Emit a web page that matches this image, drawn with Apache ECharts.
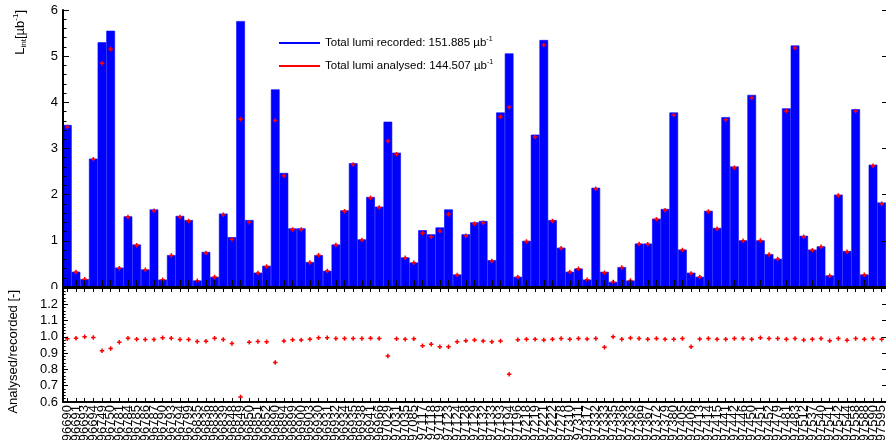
<!DOCTYPE html>
<html>
<head>
<meta charset="utf-8">
<script src="https://cdn.jsdelivr.net/npm/echarts@6/dist/echarts.min.js"></script>
<style>
  html, body { margin: 0; padding: 0; background: #fff; }
  #chart { width: 886px; height: 440px; }
</style>
</head>
<body>
<div id="chart"></div>
<script>
// Run numbers (one histogram bin per run)
const runs = [
  '296690','296691','296693','296694','296749','296750','296781','296784','296785','296786',
  '296787','296790','296793','296794','296799','296835','296836','296838','296839','296848',
  '296849','296850','296851','296852','296890','296894','296899','296900','296903','296930',
  '296931','296932','296934','296935','296938','296941','296966','297029','297031','297035',
  '297085','297117','297118','297119','297123','297124','297128','297129','297132','297133',
  '297193','297194','297196','297218','297219','297221','297222','297278','297310','297311',
  '297317','297332','297333','297335','297336','297363','297366','297367','297372','297379',
  '297380','297405','297406','297413','297414','297415','297441','297442','297446','297450',
  '297451','297452','297479','297481','297483','297512','297537','297540','297541','297542',
  '297544','297558','297588','297590','297595'
];

// Integrated luminosity recorded per run [ub^-1]
const recorded = [
  3.51, 0.33, 0.17, 2.78, 5.30, 5.55, 0.42, 1.53, 0.92, 0.38,
  1.68, 0.16, 0.69, 1.54, 1.45, 0.14, 0.76, 0.22, 1.59, 1.08,
  5.76, 1.45, 0.31, 0.46, 4.28, 2.47, 1.27, 1.27, 0.54, 0.69,
  0.35, 0.92, 1.66, 2.68, 1.03, 1.95, 1.74, 3.58, 2.91, 0.64,
  0.53, 1.23, 1.14, 1.29, 1.68, 0.27, 1.14, 1.40, 1.43, 0.58,
  3.78, 5.06, 0.22, 1.00, 3.30, 5.35, 1.45, 0.85, 0.33, 0.40,
  0.16, 2.15, 0.33, 0.11, 0.43, 0.14, 0.94, 0.94, 1.48, 1.69,
  3.78, 0.81, 0.31, 0.22, 1.65, 1.28, 3.68, 2.61, 1.01, 4.16,
  1.01, 0.71, 0.61, 3.87, 5.23, 1.11, 0.81, 0.88, 0.25, 2.00,
  0.78, 3.85, 0.27, 2.65, 1.83
];

// Integrated luminosity analysed per run [ub^-1]
const analysed = [
  3.468, 0.327, 0.170, 2.769, 4.844, 5.150, 0.406, 1.518, 0.907, 0.374,
  1.653, 0.159, 0.684, 1.515, 1.427, 0.136, 0.739, 0.218, 1.565, 1.036,
  3.635, 1.402, 0.301, 0.446, 3.604, 2.408, 1.247, 1.245, 0.532, 0.686,
  0.348, 0.911, 1.643, 2.653, 1.020, 1.934, 1.723, 3.161, 2.875, 0.631,
  0.524, 1.162, 1.089, 1.211, 1.578, 0.262, 1.112, 1.372, 1.394, 0.563,
  3.686, 3.896, 0.216, 0.985, 3.251, 5.243, 1.428, 0.842, 0.325, 0.396,
  0.158, 2.129, 0.309, 0.110, 0.424, 0.139, 0.931, 0.926, 1.465, 1.665,
  3.723, 0.802, 0.291, 0.217, 1.634, 1.261, 3.625, 2.584, 1.000, 4.098,
  1.005, 0.703, 0.604, 3.812, 5.178, 1.088, 0.798, 0.871, 0.244, 1.980,
  0.764, 3.812, 0.266, 2.624, 1.803
];

// Totals quoted in the legend
const totalRecorded = '151.885';
const totalAnalysed = '144.507';

// Fraction of the recorded luminosity that was analysed
const ratio = recorded.map((r, i) => +(analysed[i] / r).toFixed(4));

const FONT = "'Liberation Sans', Arial, Helvetica, sans-serif";
const BLACK = '#000';
const BLUE = '#0000ff';
const RED = '#ff0000';
const PLUS = 'path://M1,0H2V1H3V2H2V3H1V2H0V1H1Z';

function catAxis(grid, pos, tickLen, labels) {
  return {
    gridIndex: grid, type: 'category', data: runs, position: pos, z: 10,
    boundaryGap: true,
    axisLine: { show: true, lineStyle: { color: BLACK, width: 2 } },
    axisTick: { show: true, inside: true, length: tickLen, alignWithLabel: true, interval: 0,
                lineStyle: { color: BLACK, width: 1 } },
    axisLabel: labels ? {
      show: true, rotate: 90, interval: 0, fontSize: 13, margin: 3,
      color: BLACK, fontFamily: FONT, hideOverlap: false
    } : { show: false },
    splitLine: { show: false }
  };
}

function valAxis(grid, pos, min, max, step, major, minor, labels, fmt) {
  return {
    gridIndex: grid, type: 'value', position: pos, min: min, max: max, interval: step, z: 10,
    axisLine: { show: pos === 'left', lineStyle: { color: BLACK, width: 2 } },
    axisTick: { show: true, inside: true, length: major, lineStyle: { color: BLACK, width: 1 } },
    minorTick: { show: minor > 0, splitNumber: 5, length: minor, lineStyle: { color: BLACK, width: 1 } },
    axisLabel: labels ? {
      show: true, fontSize: 13, margin: 5, color: BLACK, fontFamily: FONT,
      showMaxLabel: grid === 0, formatter: fmt
    } : { show: false },
    splitLine: { show: false }
  };
}

const chart = echarts.init(document.getElementById('chart'), null, { renderer: 'canvas' });

chart.setOption({
  animation: false,
  backgroundColor: '#fff',
  grid: [
    { left: 63, top: 10, width: 823, height: 277, containLabel: false, outerBoundsMode: 'none' },
    { left: 63, top: 288, width: 823, height: 114, containLabel: false, outerBoundsMode: 'none' }
  ],
  xAxis: [
    catAxis(0, 'bottom', 7, false),
    catAxis(0, 'top', 5, false),
    catAxis(1, 'bottom', 4, true),
    catAxis(1, 'top', 4, false)
  ],
  yAxis: [
    valAxis(0, 'left', 0, 6, 1, 6, 3.5, true, v => String(v)),
    valAxis(0, 'right', 0, 6, 1, 4, 0, false),
    valAxis(1, 'left', 0.6, 1.3, 0.1, 5, 2.7, true, v => v.toFixed(1)),
    valAxis(1, 'right', 0.6, 1.3, 0.1, 4, 0, false)
  ],
  legend: {
    orient: 'vertical', left: 274, top: 31,
    itemWidth: 41, itemHeight: 2, itemGap: 10,
    data: [
      { name: 'recorded', icon: 'rect', itemStyle: { color: BLUE, borderWidth: 0, opacity: 1 } },
      { name: 'analysed', icon: 'rect', itemStyle: { color: RED, borderWidth: 0, opacity: 1 } }
    ],
    formatter: n => n === 'recorded'
      ? '{a|Total lumi recorded: ' + totalRecorded + ' \u00b5b}{s|-1}'
      : '{a|Total lumi analysed: ' + totalAnalysed + ' \u00b5b}{s|-1}',
    textStyle: {
      color: BLACK, fontFamily: FONT,
      rich: {
        a: { fontSize: 11.5, lineHeight: 14, fontFamily: FONT, color: BLACK },
        s: { fontSize: 7, lineHeight: 7, verticalAlign: 'top', fontFamily: FONT, color: BLACK }
      }
    }
  },
  series: [
    {
      name: 'recorded', type: 'bar', xAxisIndex: 0, yAxisIndex: 0,
      data: recorded, barCategoryGap: '0%', barGap: '0%',
      itemStyle: { color: BLUE, borderColor: BLUE, borderWidth: 0.6 }, z: 2
    },
    {
      name: 'analysed', type: 'scatter', xAxisIndex: 0, yAxisIndex: 0,
      data: analysed, symbol: PLUS, symbolSize: 4.5,
      itemStyle: { color: RED, opacity: 1 }, z: 4
    },
    {
      name: 'ratio', type: 'scatter', xAxisIndex: 2, yAxisIndex: 2,
      data: ratio, symbol: PLUS, symbolSize: 4.5,
      itemStyle: { color: RED, opacity: 1 }, z: 4
    }
  ],
  graphic: [
    // lower pad hides the bottom half of the upper pad's "0"
    { type: 'rect', z: 100, shape: { x: 30, y: 289, width: 32, height: 9 }, style: { fill: '#fff' } },
    {
      type: 'text', z: 100, x: 20, y: 10, rotation: Math.PI / 2,
      style: {
        text: '{m|L}{sub|int}{m|[\u00b5b}{sup|-1}{m|]}',
        align: 'right', verticalAlign: 'middle', fill: BLACK,
        rich: {
          m: { fontSize: 13, lineHeight: 16, fontFamily: FONT, fill: BLACK },
          sub: { fontSize: 8, lineHeight: 6, verticalAlign: 'bottom', fontFamily: FONT, fill: BLACK },
          sup: { fontSize: 8, lineHeight: 8, verticalAlign: 'top', fontFamily: FONT, fill: BLACK }
        }
      }
    },
    {
      type: 'text', z: 100, x: 13, y: 290, rotation: Math.PI / 2,
      style: {
        text: 'Analysed/recorded [-]', fontSize: 13, fontFamily: FONT,
        align: 'right', verticalAlign: 'middle', fill: BLACK
      }
    }
  ]
});
</script>
</body>
</html>
